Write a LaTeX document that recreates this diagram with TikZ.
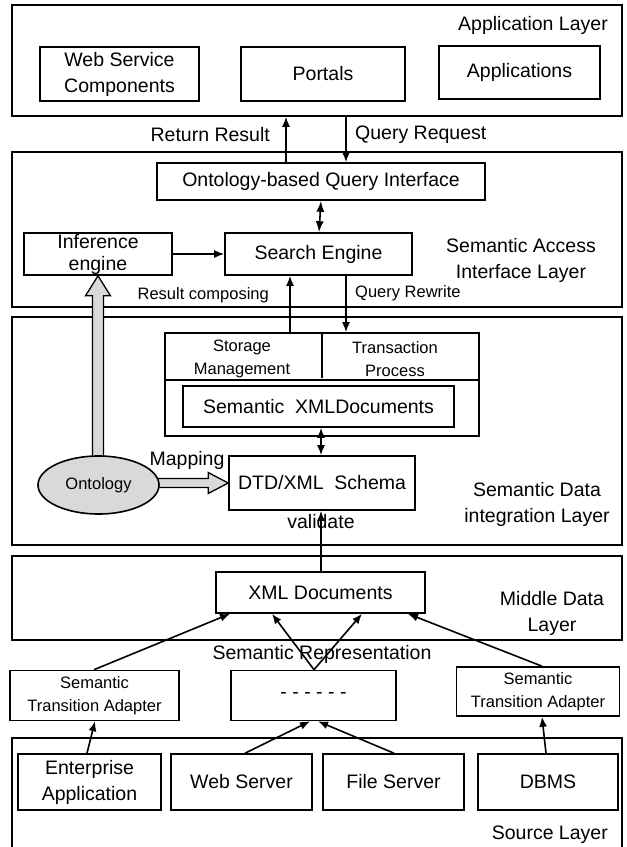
\documentclass[tikz,border=0pt]{standalone}
\usepackage{fontspec}
\setmainfont{Liberation Sans}
\usetikzlibrary{arrows.meta,shapes.geometric,calc}
\newcommand\fsmain{\fontsize{19.5}{26}\selectfont}
\newcommand\fstight{\fontsize{19.5}{22}\selectfont}
\newcommand\fssmall{\fontsize{16.5}{23.5}\selectfont}
\begin{document}
\begin{tikzpicture}[x=1pt,y=-1pt,
  layer/.style={draw,line width=1.6pt,inner sep=0pt,minimum width=610},
  box/.style={draw,line width=1.6pt,inner sep=0pt,align=center,font=\fsmain},
  sbox/.style={draw,line width=1.6pt,inner sep=0pt,align=center,font=\fssmall},
  lbl/.style={inner sep=0pt,align=center,font=\fsmain},
  slbl/.style={inner sep=0pt,align=center,font=\fssmall},
  arr/.style={line width=1.6pt,-{Latex[length=10pt,width=8pt]}},
  darr/.style={line width=1.6pt,{Latex[length=11pt,width=8pt]}-{Latex[length=11pt,width=8pt]}},
  sdarr/.style={line width=1.6pt,{Latex[length=10pt,width=8pt]}-{Latex[length=10pt,width=8pt]}},
  hollow/.style={draw,line width=1.3pt,fill=gray!30,line join=miter}]
\useasboundingbox (0,0) rectangle (627,847);
% x positions for connectors
\foreach \n/\v in {a/286,b/346,c/321,cc/319,d/290,e/321,f/94,g/230,h/314,i/272,j/362,k/542,l/408,m/87,n/95,o/245,p/310,q/394,r/318,s/546}
  {\coordinate (x\n) at (\v,0);}
\coordinate (div) at (0,380);
% layers
\node[layer,minimum height=111] (l1) at (317,60.5) {};
\node[layer,minimum height=155] (l2) at (317,229.5) {};
\node[layer,minimum height=228] (l3) at (317,431) {};
\node[layer,minimum height=84] (l4) at (317,598) {};
\node[layer,minimum height=122] (l5) at (317,799) {};
% application layer
\node[lbl,anchor=east] (t1) at (608,25) {Application Layer};
\node[box,minimum width=159,minimum height=54] (wsc) at (119.5,74) {Web Service\\Components};
\node[box,minimum width=164,minimum height=54] (por) at (323,74) {Portals};
\node[box,minimum width=161,minimum height=53] (app) at (519.5,72.5) {Applications};
\node[lbl,anchor=east] (trr) at (270,135) {Return Result};
\node[lbl,anchor=west] (tqr) at (355,135) {Query Request};
% semantic access interface layer
\node[box,minimum width=328,minimum height=37] (oqi) at (321,181.5) {Ontology-based Query Interface};
\node[box,font=\fstight,minimum width=148,minimum height=42] (inf) at (98,254) {Inference\\engine};
\node[box,minimum width=187,minimum height=42] (se) at (318.5,254) {Search Engine};
\node[lbl] (t2) at (521,260) {Semantic Access\\Interface Layer};
\node[slbl,anchor=east] (trc) at (269,295) {Result composing};
\node[slbl,anchor=west] (tqw) at (355,293) {Query Rewrite};
% semantic data integration layer
\node[draw,line width=1.6pt,inner sep=0pt,minimum width=314,minimum height=103] (stor) at (322,384.5) {};
\draw[line width=1.6pt] (stor.west |- div) -- (stor.east |- div);
\draw[line width=1.6pt] (stor.north) -- ($(stor.north |- div)+(0,-2)$);
\node[slbl] (tsm) at (242,359) {Storage\\Management};
\node[slbl] (ttp) at (395,359) {Transaction\\Process};
\node[box,minimum width=271,minimum height=41] (sxd) at (318.5,406.5) {Semantic\ \ XMLDocuments};
\node[box,minimum width=186,minimum height=54] (dtd) at (322,483) {DTD/XML\ \ Schema};
\node[lbl] (tmap) at (187,460) {Mapping};
\node[lbl] (tval) at (321,522) {validate};
\node[lbl] (t3) at (537,504) {Semantic Data\\integration Layer};
% ontology ellipse and hollow arrows
\coordinate (oc) at (98.5,485);
\path[hollow] ($(inf.south)+(-5.5,20)$) -- ($(inf.south)+(-12.5,20)$) -- (inf.south) -- ($(inf.south)+(12.5,20)$) -- ($(inf.south)+(5.5,20)$) -- ($(oc -| inf.south)+(5.5,0)$) -- ($(oc -| inf.south)+(-5.5,0)$) -- cycle;
\path[hollow] ($(oc |- dtd.west)+(0,-4.5)$) -- ($(dtd.west)+(-20,-4.5)$) -- ($(dtd.west)+(-20,-10.5)$) -- (dtd.west) -- ($(dtd.west)+(-20,10.5)$) -- ($(dtd.west)+(-20,4.5)$) -- ($(oc |- dtd.west)+(0,4.5)$) -- cycle;
\node[ellipse,draw,line width=1.6pt,fill=gray!30,inner sep=0pt,minimum width=121,minimum height=58,font=\fssmall] (ont) at (oc) {Ontology};
% middle data layer
\node[box,minimum width=209,minimum height=41] (xml) at (320.5,592.5) {XML Documents};
\node[lbl] (t4) at (552,613) {Middle Data\\Layer};
\node[lbl] (tsr) at (322,654) {Semantic Representation};
\node[sbox,minimum width=169,minimum height=50] (sta1) at (94.5,695.5) {Semantic\\Transition Adapter};
\node[box,minimum width=165,minimum height=50] (dots) at (313.5,695.5) {- - - - - -};
\node[sbox,minimum width=163,minimum height=49] (sta2) at (538,691.5) {Semantic\\Transition Adapter};
% source layer
\node[box,minimum width=143,minimum height=56] (ent) at (89.5,782) {Enterprise\\Application};
\node[box,minimum width=141,minimum height=56] (web) at (241.5,782) {Web Server};
\node[box,minimum width=141,minimum height=56] (fil) at (393.5,782) {File Server};
\node[box,minimum width=140,minimum height=56] (dbms) at (548,782) {DBMS};
\node[lbl,anchor=east] (t5) at (608,835) {Source Layer};
% connectors
\draw[arr] (oqi.north -| xa) -- (l1.south -| xa);
\draw[arr] (l1.south -| xb) -- (oqi.north -| xb);
\draw[darr] (oqi.south -| xc) -- (se.north -| xcc);
\draw[arr] (inf.east) -- (se.west);
\draw[arr] (stor.north -| xd) -- (se.south -| xd);
\draw[arr] (se.south -| xb) -- (stor.north -| xb);
\draw[sdarr] (sxd.south -| xe) -- (dtd.north -| xe);
\draw[arr] (xml.north -| xe) -- (dtd.south -| xe);
\draw[arr] (sta1.north -| xf) -- (xml.south -| xg);
\draw[arr] (dots.north -| xh) -- (xml.south -| xi);
\draw[arr] (dots.north -| xh) -- (xml.south -| xj);
\draw[arr] (sta2.north -| xk) -- (xml.south -| xl);
\draw[arr] (ent.north -| xm) -- (sta1.south -| xn);
\draw[arr] (web.north -| xo) -- (dots.south -| xp);
\draw[arr] (fil.north -| xq) -- (dots.south -| xr);
\draw[arr] (dbms.north -| xs) -- (sta2.south -| xk);
\end{tikzpicture}
\end{document}
